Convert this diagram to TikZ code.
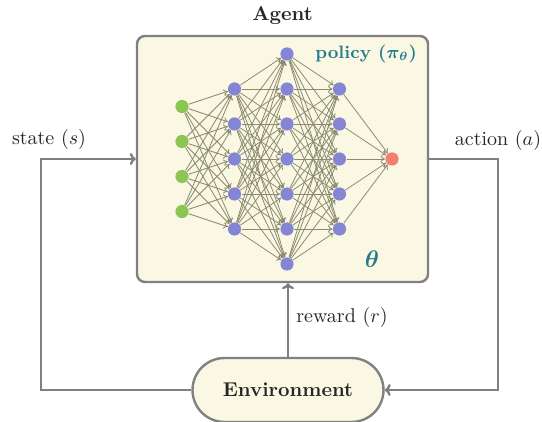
\documentclass[tikz,border=0pt]{standalone}
\usetikzlibrary{arrows.meta,positioning}
\definecolor{agentfill}{HTML}{FAF8E3}
\definecolor{frame}{HTML}{808080}
\definecolor{inputgreen}{HTML}{8CC652}
\definecolor{hiddenpurple}{HTML}{8585D6}
\definecolor{outputred}{HTML}{F2806E}
\definecolor{edgeolive}{HTML}{8A8A70}
\definecolor{tealtext}{HTML}{237C8C}

\begin{document}
\begin{tikzpicture}[x=0.5pt,y=-0.5pt,every node/.style={font=\normalsize,text=black!85},
  panel/.style={draw=frame,fill=agentfill,line width=1.2pt},
  flow/.style={draw=frame,line width=1.2pt,-{To[length=3pt,width=6pt]}},
  neuron/.style={circle,inner sep=0pt,minimum size=6.6pt},
  synapse/.style={draw=edgeolive,line width=0.4pt,-{To[length=2.2pt,width=3.2pt]}}]
\useasboundingbox (0,0) rectangle (542,422);
% agent and environment
\node[panel,rounded corners=4pt,minimum width=145.5pt,minimum height=123pt] (agent) at (282.5,159) {};
\node[font=\bfseries,above=1.5pt of agent] (agenttitle) {Agent};
\node[panel,rounded corners=16pt,minimum width=95.5pt,minimum height=32pt,font=\bfseries] (env) at (288,390) {Environment};
% policy network
\foreach \i in {1,...,4} \node[neuron,fill=inputgreen] (in\i) at (182,{159+35*(\i-2.5)}) {};
\foreach \i in {1,...,5} \node[neuron,fill=hiddenpurple] (ha\i) at (234.5,{159+35*(\i-3)}) {};
\foreach \i in {1,...,7} \node[neuron,fill=hiddenpurple] (hb\i) at (287,{159+35*(\i-4)}) {};
\foreach \i in {1,...,5} \node[neuron,fill=hiddenpurple] (hc\i) at (339.5,{159+35*(\i-3)}) {};
\node[neuron,fill=outputred] (out) at (392,159) {};
\foreach \i in {1,...,4} \foreach \j in {1,...,5} \draw[synapse] (in\i) -- (ha\j);
\foreach \i in {1,...,5} \foreach \j in {1,...,7} \draw[synapse] (ha\i) -- (hb\j);
\foreach \i in {1,...,7} \foreach \j in {1,...,5} \draw[synapse] (hb\i) -- (hc\j);
\foreach \i in {1,...,5} \draw[synapse] (hc\i) -- (out);
\node[font=\small\bfseries\boldmath,text=tealtext,anchor=east] (policy) at (424,54) {policy $(\pi_{\theta})$};
\node[font=\large\boldmath,text=tealtext] (params) at (372,259) {$\theta$};
% loop
\draw[flow] (env.west) -| ([xshift=-47.5pt]agent.west) -- (agent.west);
\draw[flow] (agent.east) -- ++(34.5pt,0) |- (env.east);
\draw[flow] (env.north) -- (env.north |- agent.south);
\node (statelabel) at (49,140) {state $(s)$};
\node (actionlabel) at (498,141) {action $(a)$};
\node (rewardlabel) at (342,318) {reward $(r)$};
\end{tikzpicture}
\end{document}
